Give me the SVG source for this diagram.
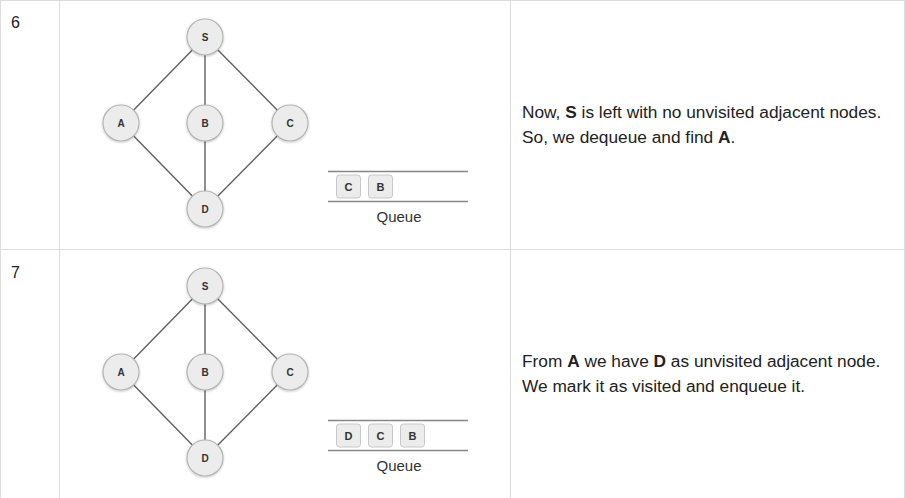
<svg xmlns="http://www.w3.org/2000/svg" width="905" height="498" viewBox="0 0 905 498">
<defs>
<style>
.grid{stroke:#dddddd;stroke-width:1;fill:none}
.edge{stroke:#606060;stroke-width:1.4;fill:none}
.node circle{fill:#ececec;stroke:#b4b4b4;stroke-width:1.2;filter:url(#sh)}
.node text{font-family:"Liberation Sans",Arial,sans-serif;font-weight:bold;font-size:10px;fill:#333;text-anchor:middle}
.qline{stroke:#888;stroke-width:1.5}
.qbox rect{fill:#ececec;stroke:#c8c8c8;stroke-width:1}
.qbox text{font-family:"Liberation Sans",Arial,sans-serif;font-weight:bold;font-size:11px;fill:#333;text-anchor:middle}
.qlabel{font-family:"Liberation Sans",Arial,sans-serif;font-size:15px;fill:#333;text-anchor:middle}
.txt{font-family:"Liberation Sans",Arial,sans-serif;font-size:17.3px;fill:#222}
.num{font-family:"Liberation Sans",Arial,sans-serif;font-size:16px;fill:#222}
</style>
<filter id="sh" x="-30%" y="-30%" width="160%" height="160%">
<feDropShadow dx="0" dy="0.8" stdDeviation="0.8" flood-color="#000" flood-opacity="0.25"/>
</filter>
</defs>
<rect width="905" height="498" fill="#ffffff"/>
<g id="table">
<line class="grid" x1="0.5" y1="0" x2="0.5" y2="498"/>
<line class="grid" x1="59.5" y1="0" x2="59.5" y2="498"/>
<line class="grid" x1="510.5" y1="0" x2="510.5" y2="498"/>
<line class="grid" x1="904.5" y1="0" x2="904.5" y2="498"/>
<line class="grid" x1="0" y1="0.5" x2="905" y2="0.5"/>
<line class="grid" x1="0" y1="249.5" x2="905" y2="249.5"/>
<text class="num" x="11" y="28">6</text>
<text class="num" x="11" y="278">7</text>
</g>
<g id="connectors">
<line class="edge" x1="205" y1="37" x2="121" y2="123"/>
<line class="edge" x1="205" y1="37" x2="205" y2="123"/>
<line class="edge" x1="205" y1="37" x2="290" y2="123"/>
<line class="edge" x1="121" y1="123" x2="205" y2="209"/>
<line class="edge" x1="205" y1="123" x2="205" y2="209"/>
<line class="edge" x1="290" y1="123" x2="205" y2="209"/>
<line class="edge" x1="205" y1="286" x2="121" y2="372"/>
<line class="edge" x1="205" y1="286" x2="205" y2="372"/>
<line class="edge" x1="205" y1="286" x2="290" y2="372"/>
<line class="edge" x1="121" y1="372" x2="205" y2="458"/>
<line class="edge" x1="205" y1="372" x2="205" y2="458"/>
<line class="edge" x1="290" y1="372" x2="205" y2="458"/>
</g>
<g id="s6" class="node"><circle cx="205" cy="37" r="18"/><text x="205" y="40.5">S</text></g>
<g id="a6" class="node"><circle cx="121" cy="123" r="18"/><text x="121" y="126.5">A</text></g>
<g id="b6" class="node"><circle cx="205" cy="123" r="18"/><text x="205" y="126.5">B</text></g>
<g id="c6" class="node"><circle cx="290" cy="123" r="18"/><text x="290" y="126.5">C</text></g>
<g id="d6" class="node"><circle cx="205" cy="209" r="18"/><text x="205" y="212.5">D</text></g>
<g id="s7" class="node"><circle cx="205" cy="286" r="18"/><text x="205" y="289.5">S</text></g>
<g id="a7" class="node"><circle cx="121" cy="372" r="18"/><text x="121" y="375.5">A</text></g>
<g id="b7" class="node"><circle cx="205" cy="372" r="18"/><text x="205" y="375.5">B</text></g>
<g id="c7" class="node"><circle cx="290" cy="372" r="18"/><text x="290" y="375.5">C</text></g>
<g id="d7" class="node"><circle cx="205" cy="458" r="18"/><text x="205" y="461.5">D</text></g>
<g id="queue6">
<line class="qline" x1="328" y1="171.5" x2="468" y2="171.5"/>
<line class="qline" x1="328" y1="201.5" x2="468" y2="201.5"/>
<g class="qbox"><rect x="336.5" y="175" width="24" height="23" rx="3"/><text x="348.5" y="190.5">C</text></g>
<g class="qbox"><rect x="368.5" y="175" width="24" height="23" rx="3"/><text x="380.5" y="190.5">B</text></g>
<text class="qlabel" x="399" y="222">Queue</text>
</g>
<g id="queue7">
<line class="qline" x1="328" y1="420.5" x2="468" y2="420.5"/>
<line class="qline" x1="328" y1="450.5" x2="468" y2="450.5"/>
<g class="qbox"><rect x="336.5" y="424" width="24" height="23" rx="3"/><text x="348.5" y="439.5">D</text></g>
<g class="qbox"><rect x="368.5" y="424" width="24" height="23" rx="3"/><text x="380.5" y="439.5">C</text></g>
<g class="qbox"><rect x="400.5" y="424" width="24" height="23" rx="3"/><text x="412.5" y="439.5">B</text></g>
<text class="qlabel" x="399" y="471">Queue</text>
</g>
<g id="desc6">
<text class="txt" x="522" y="118">Now, <tspan font-weight="bold">S</tspan> is left with no unvisited adjacent nodes.</text>
<text class="txt" x="522" y="143">So, we dequeue and find <tspan font-weight="bold">A</tspan>.</text>
</g>
<g id="desc7">
<text class="txt" x="522" y="367">From <tspan font-weight="bold">A</tspan> we have <tspan font-weight="bold">D</tspan> as unvisited adjacent node.</text>
<text class="txt" x="522" y="392">We mark it as visited and enqueue it.</text>
</g>
</svg>
